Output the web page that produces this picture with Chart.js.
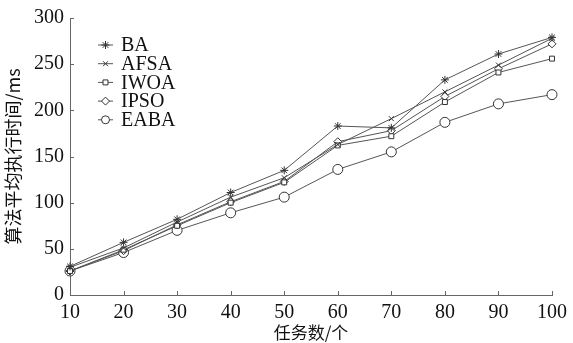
<!DOCTYPE html>
<html>
<head>
<meta charset="utf-8">
<script src="https://cdn.jsdelivr.net/npm/chart.js@4/dist/chart.umd.min.js"></script>
<style>
  html, body { margin: 0; padding: 0; background: #fff; }
  #wrap { width: 573px; height: 343px; }
</style>
</head>
<body>
<div id="wrap"><canvas id="chart" width="573" height="343"></canvas></div>
<script>
const taskCounts = ['10', '20', '30', '40', '50', '60', '70', '80', '90', '100'];
const yTicks = [0, 50, 100, 150, 200, 250, 300];

const baTimes   = [31, 57, 82, 111, 135, 183, 181, 233, 261, 279];
const afsaTimes = [30, 51, 79, 106, 127, 163, 191, 220, 249, 278];
const iwoaTimes = [26, 49, 75, 100, 122, 162, 172, 209, 241, 256];
const ipsoTimes = [26, 48, 76, 101, 123, 166, 178, 215, 245, 272];
const eabaTimes = [26, 46, 70, 89, 106, 136, 155, 187, 207, 217];

const serif = "'Liberation Serif', 'DejaVu Serif', serif";
const lineColor = '#555';

function series(label, data, style, radius) {
    return {
        label: label,
        data: data,
        borderColor: lineColor,
        borderWidth: 1,
        pointStyle: style,
        pointRadius: radius,
        pointBorderColor: '#333',
        pointBackgroundColor: '#fff',
        pointBorderWidth: 1,
        tension: 0
    };
}

// legend drawn inside the plot, top left
const innerLegend = {
    id: 'innerLegend',
    afterDraw(chart) {
        const ctx = chart.ctx;
        const x0 = 98, y0 = 45, rowH = 18.7;
        chart.data.datasets.forEach((ds, i) => {
            const y = y0 + i * rowH;
            ctx.save();
            ctx.strokeStyle = lineColor;
            ctx.lineWidth = 1;
            ctx.beginPath();
            ctx.moveTo(x0, y);
            ctx.lineTo(x0 + 15, y);
            ctx.stroke();
            ctx.strokeStyle = ds.pointBorderColor;
            ctx.fillStyle = '#fff';
            Chart.helpers.drawPoint(ctx, {
                pointStyle: ds.pointStyle, radius: Math.min(ds.pointRadius, 4), rotation: 0, borderWidth: 1
            }, x0 + 7.5, y);
            ctx.fillStyle = '#111';
            ctx.font = '20px ' + serif;
            ctx.textBaseline = 'middle';
            ctx.fillText(ds.label, x0 + 23, y + 1);
            ctx.restore();
        });
    }
};

// short tick marks pointing into the plot
const innerTicks = {
    id: 'innerTicks',
    afterDraw(chart) {
        const ctx = chart.ctx;
        const area = chart.chartArea;
        const xs = chart.scales.x, ys = chart.scales.y;
        ctx.save();
        ctx.strokeStyle = '#666';
        ctx.lineWidth = 1;
        ctx.beginPath();
        ys.ticks.forEach(t => {
            const y = Math.round(ys.getPixelForValue(t.value)) + 0.5;
            ctx.moveTo(area.left, y);
            ctx.lineTo(area.left + 4, y);
        });
        taskCounts.forEach((c, i) => {
            const x = Math.round(xs.getPixelForValue(i)) + 0.5;
            ctx.moveTo(x, area.bottom);
            ctx.lineTo(x, area.bottom - 4);
        });
        ctx.stroke();
        ctx.restore();
    }
};

new Chart(document.getElementById('chart'), {
    type: 'line',
    data: {
        labels: taskCounts,
        datasets: [
            series('BA', baTimes, 'star', 4),
            series('AFSA', afsaTimes, 'crossRot', 3.5),
            series('IWOA', iwoaTimes, 'rect', 3.5),
            series('IPSO', ipsoTimes, 'rectRot', 4),
            series('EABA', eabaTimes, 'circle', 5)
        ]
    },
    options: {
        responsive: false,
        animation: false,
        layout: { padding: { top: 17, right: 18, left: 0, bottom: 0 } },
        plugins: {
            legend: { display: false },
            tooltip: { enabled: false }
        },
        scales: {
            x: {
                offset: false,
                grid: { display: false, drawTicks: false },
                border: { display: true, color: '#666', width: 1 },
                ticks: {
                    color: '#111',
                    font: { family: serif, size: 20 },
                    padding: 6,
                    maxRotation: 0,
                    autoSkip: false
                },
                title: {
                    display: true,
                    text: '任务数/个',
                    color: '#111',
                    font: { family: "'Noto Sans CJK SC', sans-serif", size: 17 },
                    padding: { top: 0, bottom: 0 }
                },
                afterFit(scale) { scale.height = 48; }
            },
            y: {
                min: 0,
                max: 300,
                afterBuildTicks(scale) { scale.ticks = yTicks.map(v => ({ value: v })); },
                grid: { display: false, drawTicks: false },
                border: { display: true, color: '#666', width: 1 },
                ticks: {
                    color: '#111',
                    font: { family: serif, size: 20 },
                    padding: 6
                },
                title: {
                    display: true,
                    text: '算法平均执行时间/ms',
                    color: '#111',
                    font: { family: "'Noto Sans CJK SC', sans-serif", size: 18 },
                    padding: { top: 2, bottom: 0 }
                },
                afterFit(scale) { scale.width = 70; }
            }
        }
    },
    plugins: [innerLegend, innerTicks]
});
</script>
</body>
</html>
